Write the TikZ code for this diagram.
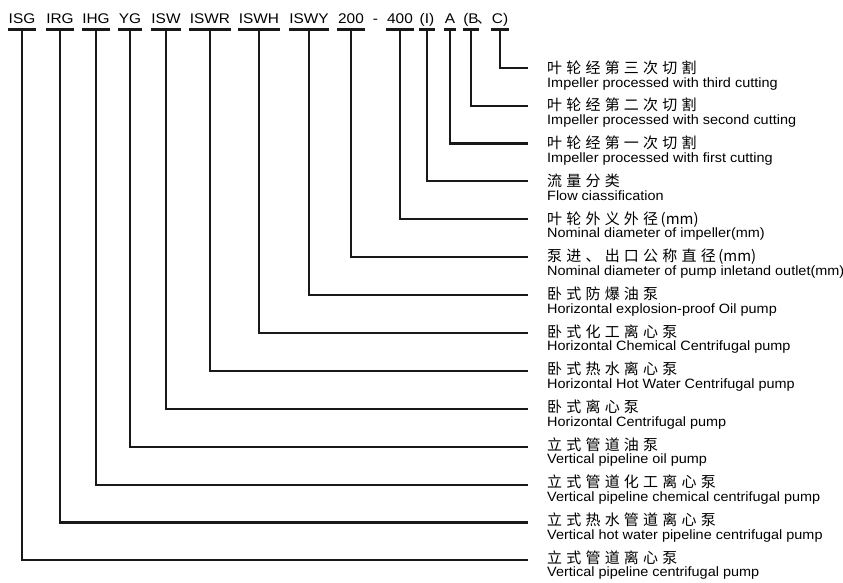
\documentclass[tikz,border=0pt]{standalone}
\usepackage{fontspec}
\setmainfont{Liberation Sans}
\newfontfamily\hdrfam{Liberation Sans}[FakeStretch=1.1]
\newfontfamily\enfam{Liberation Sans}[FakeStretch=1.07]
\newfontfamily\cjkfam{Noto Sans CJK SC}[LetterSpace=28]
\newfontfamily\cjkplain{Noto Sans CJK SC}
\newcommand\hdrfont{\hdrfam\fontsize{14}{16}\selectfont}
\newcommand\enfont{\enfam\fontsize{13.5}{15}\selectfont}
\newcommand\cjkfont{\cjkfam\fontsize{15}{17}\selectfont}
\newcommand\mmtag{{\cjkplain\,(mm)}}
\begin{document}
\begin{tikzpicture}[x=1pt,y=-1pt,
  hdr/.style={inner sep=0pt,anchor=base,font=\hdrfont},
  bar/.style={line width=2.6pt,draw=black!90},
  conn/.style={line width=2.1pt,draw=black!90,line join=miter},
  cn/.style={anchor=base west,inner sep=0pt,font=\cjkfont},
  en/.style={anchor=base west,inner sep=0pt,font=\enfont}]
\useasboundingbox (0,0) rectangle (843,582);
\coordinate (barline) at (0,29.5);
\node[hdr] (hdash) at (375.5,23.3) {-};
\node[hdr,anchor=base west,font=\cjkplain\fontsize{14}{16}\selectfont] (hcomma) at (477,23.3) {、};
\foreach \i/\hx/\hlab/\chtxt/\entxt in {
 0/500/{C)}/{叶轮经第三次切割}/{Impeller processed with third cutting},
 1/471/{(B}/{叶轮经第二次切割}/{Impeller processed with second cutting},
 2/450/{A}/{叶轮经第一次切割}/{Impeller processed with first cutting},
 3/427/{(I)}/{流量分类}/{Flow ciassification},
 4/400/{400}/{叶轮外义外径\mmtag}/{Nominal diameter of impeller(mm)},
 5/351/{200}/{泵进、出口公称直径\mmtag}/{Nominal diameter of pump inletand outlet(mm)},
 6/309/{ISWY}/{卧式防爆油泵}/{Horizontal explosion-proof Oil pump},
 7/259/{ISWH}/{卧式化工离心泵}/{Horizontal Chemical Centrifugal pump},
 8/210/{ISWR}/{卧式热水离心泵}/{Horizontal Hot Water Centrifugal pump},
 9/166/{ISW}/{卧式离心泵}/{Horizontal Centrifugal pump},
 10/130/{YG}/{立式管道油泵}/{Vertical pipeline oil pump},
 11/96/{IHG}/{立式管道化工离心泵}/{Vertical pipeline chemical centrifugal pump},
 12/60/{IRG}/{立式热水管道离心泵}/{Vertical hot water pipeline centrifugal pump},
 13/22/{ISG}/{立式管道离心泵}/{Vertical pipeline centrifugal pump}}
{
  \pgfmathsetmacro\ly{67.7+37.9*\i}
  \pgfmathsetmacro\cy{67.7+37.7*\i+5.5}
  \pgfmathsetmacro\eb{87.3+37.65*\i}
  \node[hdr] (h\i) at (\hx,23.3) {\hlab};
  \draw[bar] ([xshift=-0.5pt]h\i.west |- barline) -- ([xshift=0.5pt]h\i.east |- barline);
  \coordinate (e\i) at (528,\ly);
  \node[cn] (c\i) at (547,\cy) {\chtxt};
  \node[en] (t\i) at (547,\eb) {\entxt};
  \draw[conn] (h\i.base |- barline) |- (e\i);
}
\end{tikzpicture}
\end{document}
